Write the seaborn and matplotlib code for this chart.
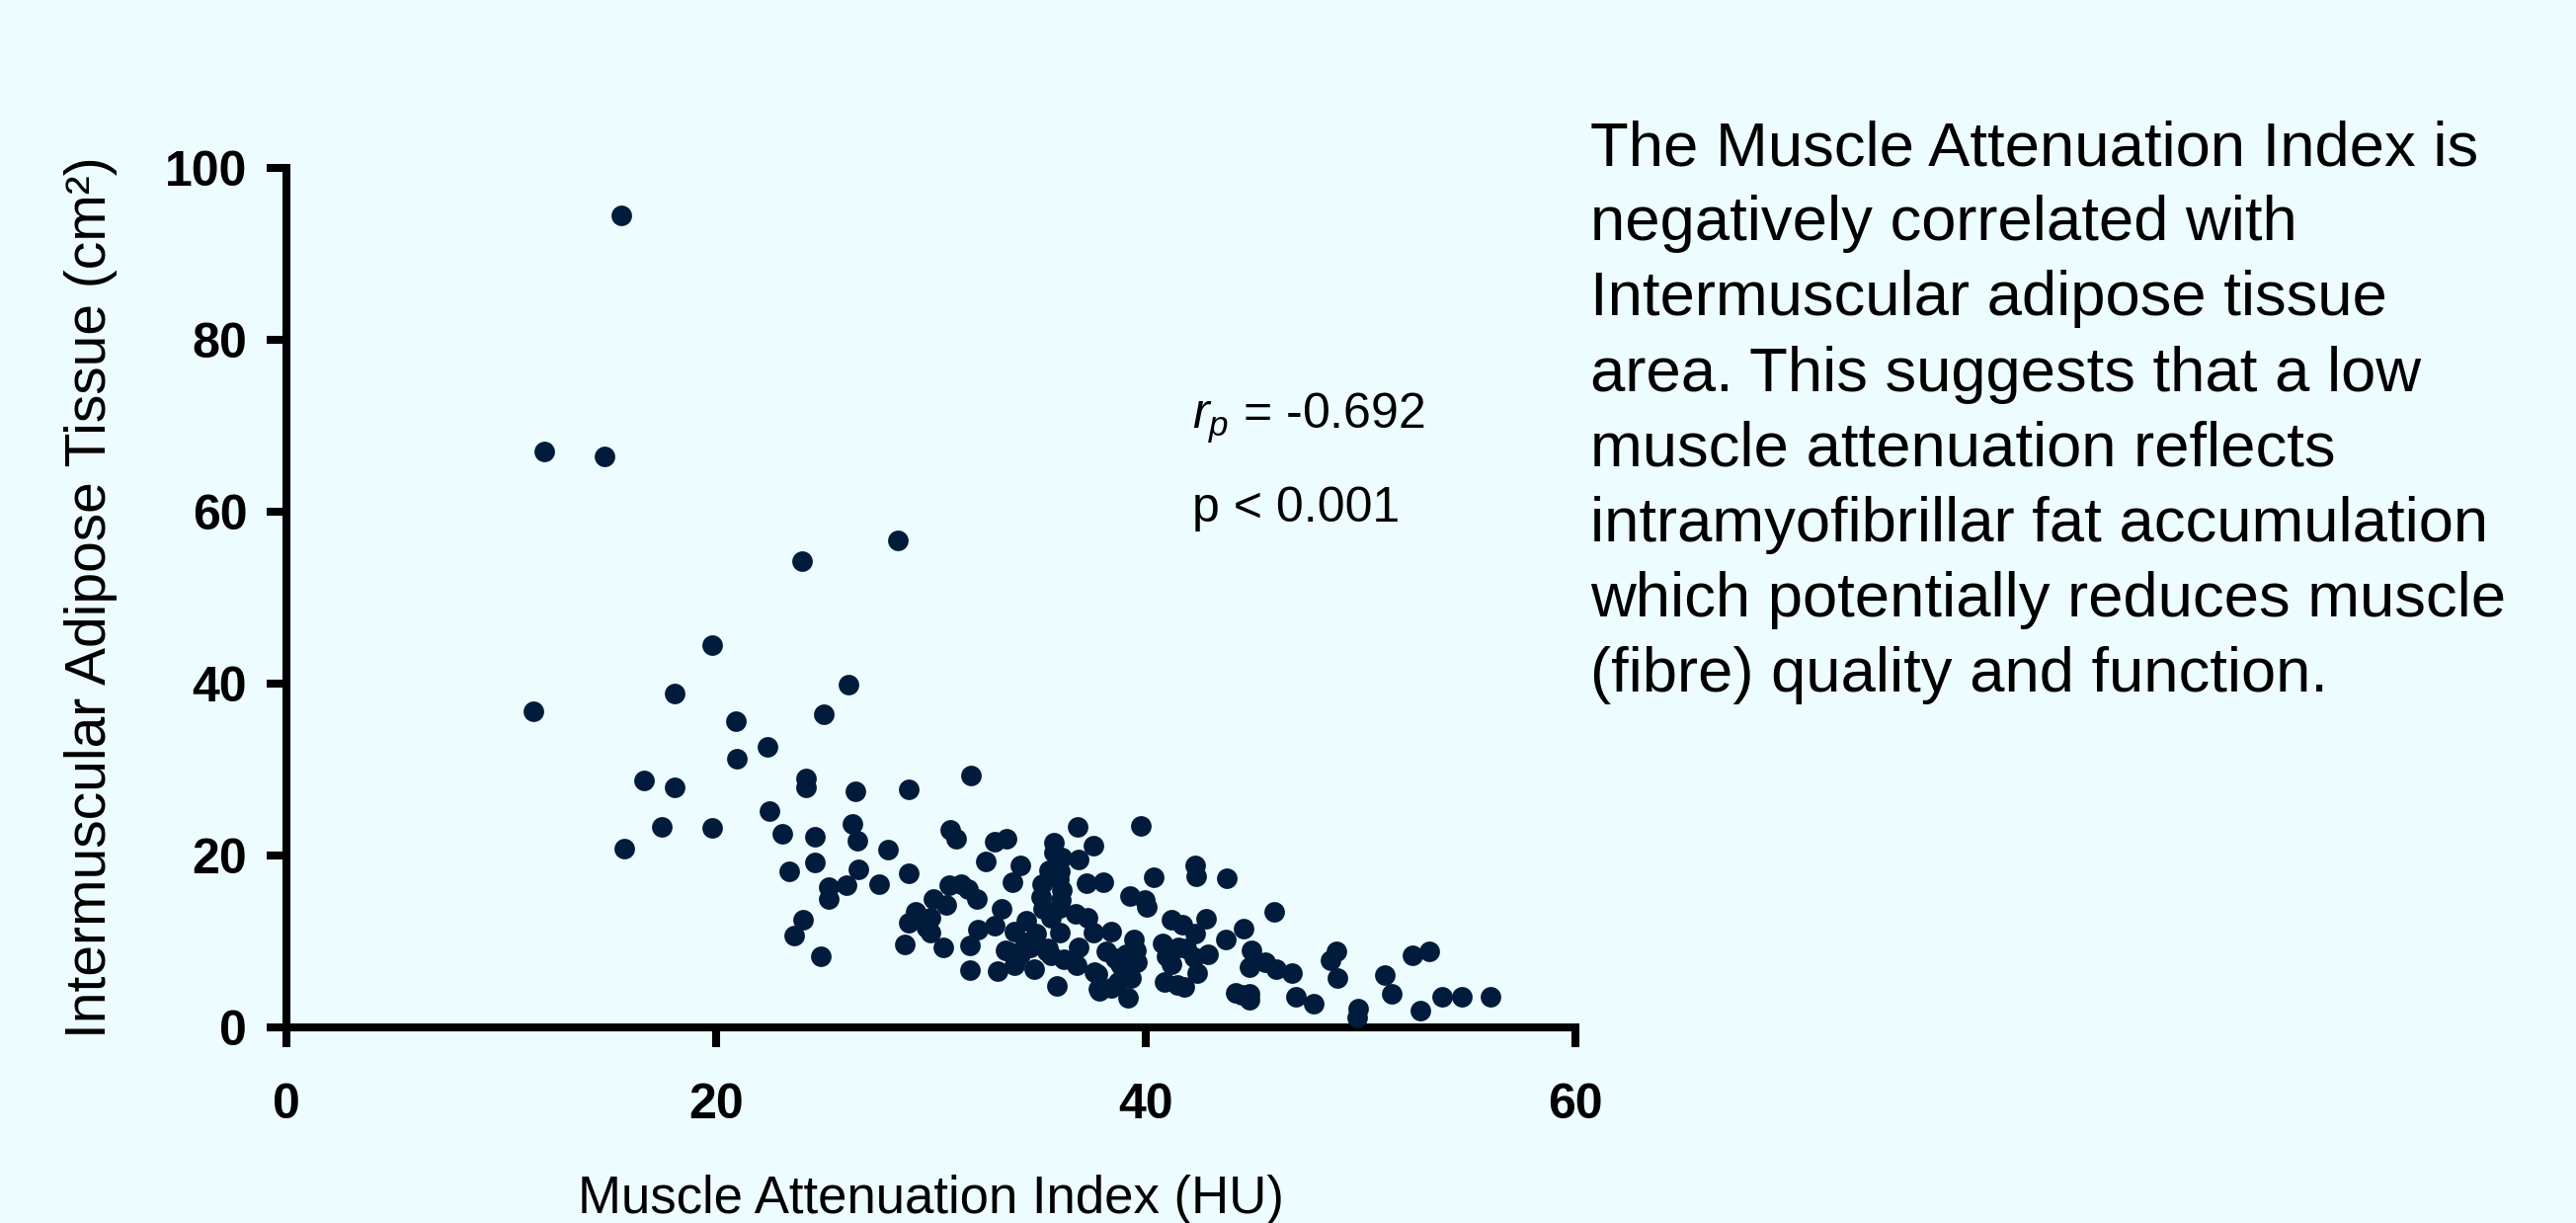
import matplotlib
matplotlib.use("Agg")
import matplotlib.pyplot as plt
import seaborn as sns
import pandas as pd

# ---- data ----
muscle_attenuation = [
    15.6, 12.0, 14.8, 28.5, 24.0, 19.85, 26.2, 18.1, 11.5, 25.05,
    20.95, 22.4, 21.0, 31.9, 16.65, 18.1, 24.2, 24.2, 26.5, 29.0,
    22.5, 17.5, 19.85, 15.75, 23.1, 24.6, 26.35, 26.6, 28.0, 23.4,
    24.6, 26.65, 25.25, 25.25, 26.1, 27.6, 29.0, 24.05, 23.65, 24.9,
    30.9, 31.2, 33.0, 33.55, 32.55, 34.2, 33.8, 30.85, 31.4, 31.75,
    32.15, 30.15, 30.75, 29.3, 29.0, 30.0, 29.8, 30.0, 28.8, 30.6,
    31.85, 32.2, 33.0, 33.3, 31.85, 33.1, 33.9, 34.45, 34.9, 33.5,
    34.0, 34.65, 34.8, 34.4, 33.7, 34.2, 33.9, 35.4, 35.9, 35.75,
    35.75, 36.1, 35.5, 35.2, 35.15, 35.25, 35.6, 36.0, 36.05, 36.1,
    35.95, 36.0, 36.85, 37.6, 36.9, 37.28, 38.05, 36.75, 37.3, 36.0,
    37.6, 38.4, 36.9, 36.8, 35.45, 35.6, 36.2, 37.65, 38.2, 37.8,
    38.4, 38.8, 39.1, 39.45, 39.6, 39.35, 39.2, 38.9, 37.75, 37.85,
    38.75, 39.8, 40.4, 39.3, 39.95, 40.05, 42.3, 42.35, 43.77, 41.2,
    41.7, 42.8, 42.3, 43.75, 44.55, 40.8, 41.0, 41.2, 41.9, 42.25,
    42.9, 42.4, 40.9, 41.5, 41.8, 41.55, 44.2, 44.94, 44.86, 44.46,
    44.86, 44.86, 45.6, 46.07, 46.8, 46.0, 46.99, 47.84, 48.9, 48.6,
    48.95, 49.9, 49.85, 51.15, 51.45, 52.45, 53.2, 52.8, 53.8, 54.75,
    56.05, 38.6, 39.55,
]
adipose_tissue = [
    94.5, 67.0, 66.4, 56.7, 54.3, 44.5, 39.9, 38.8, 36.8, 36.4,
    35.6, 32.6, 31.3, 29.3, 28.7, 27.9, 29.0, 27.9, 27.5, 27.7,
    25.2, 23.3, 23.2, 20.8, 22.5, 22.2, 23.7, 21.7, 20.7, 18.2,
    19.2, 18.4, 16.3, 14.9, 16.5, 16.7, 17.9, 12.5, 10.7, 8.3,
    23.0, 21.9, 21.6, 21.9, 19.3, 18.8, 16.9, 16.5, 16.7, 16.1,
    15.0, 14.9, 14.3, 13.5, 12.2, 12.8, 11.6, 11.0, 9.7, 9.3,
    9.5, 11.4, 11.8, 13.8, 6.7, 6.6, 11.2, 12.4, 10.9, 9.0,
    7.9, 9.3, 6.8, 9.9, 8.7, 8.5, 7.2, 8.9, 4.8, 21.5,
    20.3, 19.8, 18.3, 16.7, 15.2, 13.8, 12.8, 13.9, 14.8, 16.0,
    17.2, 18.2, 23.3, 21.2, 19.5, 16.8, 16.9, 13.2, 12.8, 11.0,
    11.0, 11.1, 9.3, 7.2, 9.2, 8.4, 7.9, 6.4, 8.8, 4.5,
    4.6, 7.3, 8.5, 10.2, 7.6, 5.8, 3.4, 7.0, 6.2, 4.3,
    5.3, 23.4, 17.5, 15.3, 14.8, 14.0, 18.9, 17.6, 17.3, 12.5,
    12.0, 12.7, 10.9, 10.2, 11.5, 9.8, 8.3, 7.3, 9.2, 8.2,
    8.5, 6.3, 5.3, 5.0, 4.7, 9.3, 4.0, 9.0, 7.0, 3.75,
    3.2, 3.9, 7.6, 6.8, 6.3, 13.5, 3.55, 2.8, 8.8, 7.8,
    5.8, 2.2, 1.2, 6.1, 3.9, 8.4, 8.8, 2.0, 3.6, 3.6,
    3.55, 8.1, 9.0,
]
x_ticks = [0, 20, 40, 60]
y_ticks = [0, 20, 40, 60, 80, 100]
x_label = "Muscle Attenuation Index (HU)"
y_label = "Intermuscular Adipose Tissue (cm²)"
stat_r = "$r_p$ = -0.692"
stat_p = "p < 0.001"
note_lines = [
    "The Muscle Attenuation Index is",
    "negatively correlated with",
    "Intermuscular adipose tissue",
    "area. This suggests that a low",
    "muscle attenuation reflects",
    "intramyofibrillar fat accumulation",
    "which potentially reduces muscle",
    "(fibre) quality and function.",
]

df = pd.DataFrame({"mai": muscle_attenuation, "imat": adipose_tissue})

# ---- style ----
BG = "#EDFCFF"
sns.set_style("ticks")
plt.rcParams["font.family"] = ["Liberation Sans", "DejaVu Sans"]
plt.rcParams["mathtext.fontset"] = "custom"
plt.rcParams["mathtext.rm"] = "Liberation Sans"
plt.rcParams["mathtext.it"] = "Liberation Sans:italic"
plt.rcParams["figure.facecolor"] = BG
plt.rcParams["axes.facecolor"] = BG
for key in ["text.color", "axes.labelcolor", "xtick.color", "ytick.color",
            "xtick.labelcolor", "ytick.labelcolor", "axes.edgecolor"]:
    plt.rcParams[key] = "black"

W, H, DPI = 2608, 1238, 200
fig = plt.figure(figsize=(W / DPI, H / DPI), dpi=DPI)
ax = fig.add_axes([289.6 / W, 1 - 1040 / H, 1305 / W, 870 / H])

sns.scatterplot(data=df, x="mai", y="imat", ax=ax, s=56, color="#001B3B",
                linewidth=0, legend=False, clip_on=False, zorder=3)

ax.set_xlim(0, 60)
ax.set_ylim(0, 100)
ax.set_xticks(x_ticks)
ax.set_yticks(y_ticks)
ax.set_xticklabels([str(t) for t in x_ticks], fontsize=18, fontweight="bold")
ax.set_yticklabels([str(t) for t in y_ticks], fontsize=18, fontweight="bold")
ax.tick_params(axis="both", direction="out", length=7.2, width=2.9,
               color="black", labelcolor="black")
ax.tick_params(axis="x", pad=13)
ax.tick_params(axis="y", pad=7)

for side in ["top", "right"]:
    ax.spines[side].set_visible(False)
for side in ["left", "bottom"]:
    ax.spines[side].set_linewidth(2.9)
    ax.spines[side].set_color("black")
    ax.spines[side].set_capstyle("projecting")

ax.set_xlabel(x_label, fontsize=19, color="black")
ax.xaxis.label.set_va("baseline")
ax.xaxis.set_label_coords(0.5, -(1228 - 1040) / 870)
ax.set_ylabel(y_label, fontsize=20.5, color="black")
ax.yaxis.label.set_va("center")
ax.yaxis.set_label_coords((92 - 289.6) / 1305, 0.5)

ax.text(42.2, 69.7, stat_r, fontsize=18, va="baseline", ha="left", color="black")
ax.text(42.2, 58.9, stat_p, fontsize=18, va="baseline", ha="left", color="black")

for i, line in enumerate(note_lines):
    fig.text(1610 / W, 1 - (167 + 76.2 * i) / H, line, fontsize=22.8,
             va="baseline", ha="left", color="black")

fig.savefig("out.png", dpi=DPI, facecolor=BG)
